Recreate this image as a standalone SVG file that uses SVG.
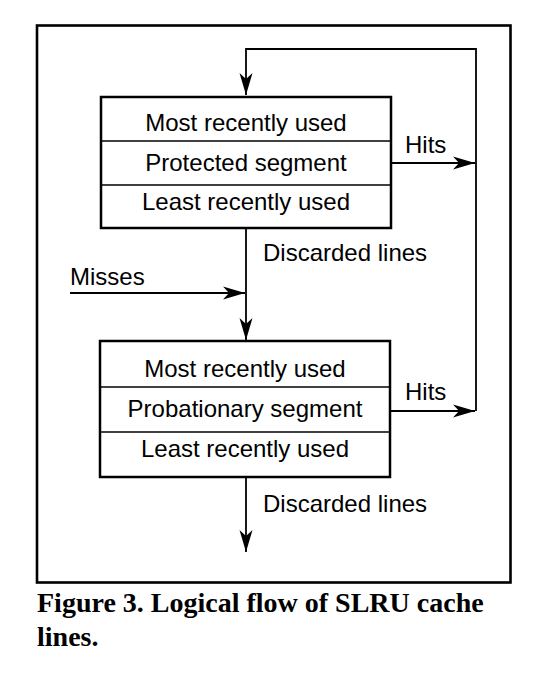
<svg xmlns="http://www.w3.org/2000/svg" width="540" height="677" viewBox="0 0 540 677">
<style>
.box{fill:#fff;stroke:#000;stroke-width:2.5}
.div{stroke:#000;stroke-width:1.5}
.con{fill:none;stroke:#000;stroke-width:1.8}
.t{font-family:"Liberation Sans",Arial,sans-serif;font-size:24px;fill:#000}
.c{text-anchor:middle}
.cap{font-family:"Liberation Serif","Times New Roman",serif;font-size:28px;font-weight:bold;fill:#000}
</style>
<defs>
<marker id="ah" markerUnits="userSpaceOnUse" markerWidth="24" markerHeight="16" viewBox="-23 -8 24 16" refX="0" refY="0" orient="auto">
<path d="M0,0 L-22,-6.5 L-16,0 L-22,6.5 z" fill="#000"/>
</marker>
</defs>
<rect width="540" height="677" fill="#fff"/>
<rect x="37" y="25.5" width="473.5" height="557" fill="none" stroke="#000" stroke-width="2.6"/>
<g id="connectors">
<path class="con" d="M476,411 V49 H246 V95" marker-end="url(#ah)"/>
<path class="con" d="M391,163 H475" marker-end="url(#ah)"/>
<path class="con" d="M390,411 H475" marker-end="url(#ah)"/>
<path class="con" d="M246,228 V340" marker-end="url(#ah)"/>
<path class="con" d="M70,293 H245" marker-end="url(#ah)"/>
<path class="con" d="M246,477 V552" marker-end="url(#ah)"/>
<text class="t" x="405" y="153">Hits</text>
<text class="t" x="405" y="400">Hits</text>
<text class="t" x="263" y="261">Discarded lines</text>
<text class="t" x="70" y="285">Misses</text>
<text class="t" x="263" y="512">Discarded lines</text>
</g>
<g id="protected">
<rect class="box" x="101" y="97" width="290" height="131"/>
<line class="div" x1="101" y1="141" x2="391" y2="141"/>
<line class="div" x1="101" y1="185" x2="391" y2="185"/>
<text class="t c" x="246" y="131">Most recently used</text>
<text class="t c" x="246" y="171">Protected segment</text>
<text class="t c" x="246" y="210">Least recently used</text>
</g>
<g id="probationary">
<rect class="box" x="100" y="341" width="290" height="136"/>
<line class="div" x1="100" y1="387" x2="390" y2="387"/>
<line class="div" x1="100" y1="432" x2="390" y2="432"/>
<text class="t c" x="245" y="377">Most recently used</text>
<text class="t c" x="245" y="417">Probationary segment</text>
<text class="t c" x="245" y="457">Least recently used</text>
</g>
<g id="caption">
<text class="cap" x="37" y="612">Figure 3. Logical flow of SLRU cache</text>
<text class="cap" x="37" y="646">lines.</text>
</g>
</svg>
